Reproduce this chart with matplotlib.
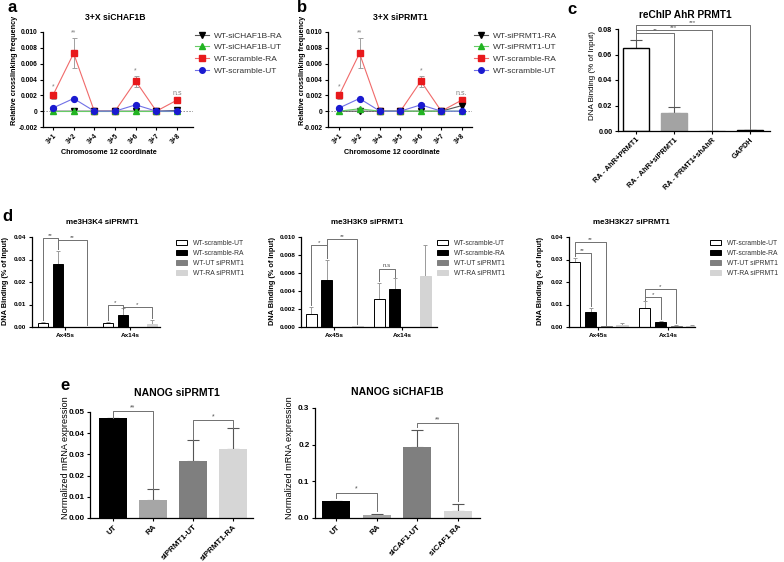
import numpy as np
import matplotlib
matplotlib.use("Agg")
import matplotlib.pyplot as plt
from matplotlib.lines import Line2D
from matplotlib.patches import Patch

plt.rcParams["font.family"] = ["Liberation Sans", "DejaVu Sans"]

W, H = 784, 562

# --- a / b : 3C crosslinking ---
coords = ["3+1", "3+2", "3+4", "3+5", "3+6", "3+7", "3+8"]
ab_yticks = [-0.002, 0, 0.002, 0.004, 0.006, 0.008, 0.010]
ab_ylabels = ["-0.002", "0", "0.002", "0.004", "0.006", "0.008", "0.010"]

a_kd_ra = [0, 0, 0, 0, 0, 0, 0.0001]
a_kd_ut = [0, 0, 0, 0, 0, 0, 0]
a_scr_ra = [0.0020, 0.0073, 0, 0, 0.0038, 0, 0.0014]
a_scr_ra_err = [0.0004, 0.0019, 0, 0, 0.0007, 0, 0.0002]
a_scr_ut = [0.0004, 0.0016, 0, 0, 0.0008, 0, 0]
a_scr_ut_err = [0.0001, 0.0001, 0, 0, 0.0002, 0, 0]
a_marks = ["*", "**", "", "", "*", "", "n.s"]
a_legend = ["WT-siCHAF1B-RA", "WT-siCHAF1B-UT", "WT-scramble-RA", "WT-scramble-UT"]

b_kd_ra = [0, 0, 0, 0, 0, 0, 0.0007]
b_kd_ut = [0, 0.0003, 0, 0, 0, 0, 0]
b_scr_ra = [0.0020, 0.0073, 0, 0, 0.0038, 0, 0.0014]
b_scr_ra_err = [0.0004, 0.0019, 0, 0, 0.0007, 0, 0.0002]
b_scr_ut = [0.0004, 0.0016, 0, 0, 0.0008, 0, 0]
b_scr_ut_err = [0.0001, 0.0001, 0, 0, 0.0002, 0, 0]
b_marks = ["*", "**", "", "", "*", "", "n.s."]
b_legend = ["WT-siPRMT1-RA", "WT-siPRMT1-UT", "WT-scramble-RA", "WT-scramble-UT"]

# --- c : reChIP ---
c_labels = ["RA - AhR+PRMT1", "RA - AhR+siPRMT1", "RA - PRMT1+shAhR", "GAPDH"]
c_vals = [0.065, 0.0145, 0.0, 0.0004]
c_errs = [0.006, 0.004, 0.0, 0.0001]
c_brackets = [(0, 1, 0.0765, "**"), (0, 2, 0.0795, "***"), (0, 3, 0.083, "***")]

# --- d : histone marks ---
d_groups = ["Ax45s", "Ax14s"]
d_series = ["WT-scramble-UT", "WT-scramble-RA", "WT-UT siPRMT1", "WT-RA siPRMT1"]
k4_mean = [[0.0018, 0.0018], [0.0278, 0.0053], [0.0, 0.0], [0.0, 0.0012]]
k4_err = [[0.0006, 0.0003], [0.0062, 0.0032], [0.0, 0.0], [0.0, 0.0018]]
k4_brackets = [(0, 0, 1, 0.0397, "**"), (0, 1, 3, 0.0385, "**"),
               (1, 0, 1, 0.0099, "*"), (1, 1, 3, 0.0089, "*")]
k9_mean = [[0.0014, 0.0031], [0.0052, 0.0042], [0.0, 0.0], [0.0001, 0.0057]]
k9_err = [[0.0008, 0.0018], [0.0023, 0.0012], [0.0, 0.0], [0.0, 0.0034]]
k9_brackets = [(0, 0, 1, 0.0091, "*"), (0, 1, 3, 0.0098, "**"),
               (1, 0, 1, 0.0065, "n.s")]
k27_mean = [[0.0289, 0.0086], [0.0068, 0.0023], [0.0003, 0.0004], [0.0010, 0.0003]]
k27_err = [[0.0019, 0.0028], [0.0016, 0.0003], [0.0, 0.0004], [0.0008, 0.0007]]
k27_brackets = [(0, 0, 1, 0.033, "**"), (0, 0, 2, 0.0378, "**"),
                (1, 0, 1, 0.0133, "*"), (1, 0, 2, 0.017, "*")]

# --- e : NANOG expression ---
e1_labels = ["UT", "RA", "siPRMT1-UT", "siPRMT1-RA"]
e1_vals = [0.0471, 0.0083, 0.0267, 0.0325]
e1_errs = [0.0002, 0.0056, 0.0099, 0.0101]
e1_brackets = [(0, 1, 0.0503, "**"), (2, 3, 0.046, "*")]
e2_labels = ["UT", "RA", "siCAF1-UT", "siCAF1 RA"]
e2_vals = [0.047, 0.007, 0.195, 0.020]
e2_errs = [0.0, 0.005, 0.046, 0.019]
e2_brackets = [(0, 1, 0.069, "*"), (2, 3, 0.258, "**")]

BAR_COLORS = ["white", "black", "#7f7f7f", "#d4d4d4"]
BAR_EDGES = ["black", "black", "#7f7f7f", "#d4d4d4"]


def px_axes(fig, left, top, right, bottom):
    return fig.add_axes([left / W, 1 - bottom / H, (right - left) / W, (bottom - top) / H])


def ftext(fig, x, y, s, **kw):
    return fig.text(x / W, 1 - y / H, s, **kw)


def style(ax, fs):
    for s in ("top", "right"):
        ax.spines[s].set_visible(False)
    for s in ("left", "bottom"):
        ax.spines[s].set_linewidth(0.9)
    ax.tick_params(direction="out", length=2.5, width=0.8, labelsize=fs, pad=1.5)
    for t in ax.get_xticklabels() + ax.get_yticklabels():
        t.set_fontweight("bold")


def bracket(ax, x1, x2, y, y1, y2, text, fs, color="#707070"):
    ax.plot([x1, x1, x2, x2], [y1, y, y, y2], color=color, lw=0.7, clip_on=False, zorder=4)
    ax.text((x1 + x2) / 2, y, text, ha="center", va="bottom", fontsize=fs,
            color="#505050", clip_on=False)


def draw_3c(fig, box, xlim, kd_ra, kd_ut, scr_ra, scr_ra_err, scr_ut, scr_ut_err, marks,
            labels, leg_xy):
    ax = px_axes(fig, *box)
    x = np.arange(len(coords))
    ax.axhline(0, color="#909090", ls=(0, (1.5, 1.5)), lw=0.7, zorder=1)
    series = [
        (scr_ra, scr_ra_err, "#e8191c", "#f06a6a", "s", 5.0),
        (kd_ra, None, "black", "#555555", "v", 4.0),
        (kd_ut, None, "#22b422", "#66cc66", "^", 4.0),
        (scr_ut, scr_ut_err, "#1a1ad0", "#7070e6", "o", 4.2),
    ]
    for y, err, c, lc, m, ms in series:
        if err is not None:
            ax.errorbar(x, y, yerr=err, fmt="none", ecolor="#a0a0a0", elinewidth=0.7,
                        capsize=1.8, capthick=0.7, zorder=2)
        ax.plot(x, y, color=lc, lw=0.8, zorder=3)
        ax.plot(x, y, ls="none", marker=m, color=c, ms=ms, zorder=3)
    tops = np.array(scr_ra) + np.array(scr_ra_err)
    for i, mk in enumerate(marks):
        if mk:
            ax.text(i, tops[i] + 0.0002, mk, ha="center", va="bottom", fontsize=5,
                    color="#808080")
    ax.set_xlim(*xlim)
    ax.set_ylim(-0.002, 0.010)
    ax.set_yticks(ab_yticks)
    ax.set_yticklabels(ab_ylabels)
    ax.set_xticks(x)
    ax.set_xticklabels(coords, rotation=45, ha="right", rotation_mode="anchor")
    style(ax, 4.8)
    handles = [
        Line2D([0], [0], color="#555555", lw=0.8, marker="v", mfc="black", mec="black", ms=4),
        Line2D([0], [0], color="#66cc66", lw=0.8, marker="^", mfc="#22b422", mec="#22b422", ms=4),
        Line2D([0], [0], color="#f06a6a", lw=0.8, marker="s", mfc="#e8191c", mec="#e8191c", ms=4.5),
        Line2D([0], [0], color="#7070e6", lw=0.8, marker="o", mfc="#1a1ad0", mec="#1a1ad0", ms=4),
    ]
    ax.legend(handles, labels, loc="upper left", bbox_to_anchor=(leg_xy[0] / W, 1 - leg_xy[1] / H),
              bbox_transform=fig.transFigure, frameon=False, fontsize=6, handlelength=1.7,
              handletextpad=0.6, labelspacing=0.45, borderpad=0, borderaxespad=0,
              labelcolor="#333333")
    return ax


def draw_grouped(fig, box, xlim, ylim, yticks, yticklabels, mean, err, brackets, leg_xy):
    ax = px_axes(fig, *box)
    step, width = 0.225, 0.16
    gx = np.arange(len(d_groups))
    top = ylim[1]
    for k in range(len(d_series)):
        xs = gx + (k - 1.5) * step
        ax.bar(xs, mean[k], width=width, color=BAR_COLORS[k], edgecolor=BAR_EDGES[k],
               linewidth=0.7, zorder=2)
        ax.errorbar(xs, mean[k], yerr=[np.zeros(len(gx)), err[k]], fmt="none",
                    ecolor="#9a9a9a", elinewidth=0.7, capsize=1.5, capthick=0.7, zorder=1)
    for g, k1, k2, y, t in brackets:
        x1 = g + (k1 - 1.5) * step
        x2 = g + (k2 - 1.5) * step
        b1 = min(mean[k1][g] + err[k1][g] + 0.02 * top, y - 0.02 * top)
        b2 = min(mean[k2][g] + err[k2][g] + 0.02 * top, y - 0.02 * top)
        bracket(ax, x1, x2, y, b1, b2, t, 4.5)
    ax.set_xlim(*xlim)
    ax.set_ylim(*ylim)
    ax.set_yticks(yticks)
    ax.set_yticklabels(yticklabels)
    ax.set_xticks(gx)
    ax.set_xticklabels(d_groups)
    style(ax, 4.6)
    handles = [Patch(facecolor=BAR_COLORS[k], edgecolor=BAR_EDGES[k], linewidth=0.7)
               for k in range(len(d_series))]
    ax.legend(handles, d_series, loc="upper left", bbox_to_anchor=(leg_xy[0] / W, 1 - leg_xy[1] / H),
              bbox_transform=fig.transFigure, frameon=False, fontsize=4.9, handlelength=1.6,
              handleheight=0.8, handletextpad=0.9, labelspacing=0.42, borderpad=0,
              borderaxespad=0, labelcolor="#333333")
    return ax


def draw_simple(fig, box, xlim, ylim, yticks, yticklabels, labels, vals, errs, colors,
                brackets, fs, edges=None, pad=0.0):
    ax = px_axes(fig, *box)
    x = np.arange(len(labels))
    ax.bar(x, vals, width=0.69, color=colors, edgecolor=edges if edges else colors,
           linewidth=1.0 if edges else 0, zorder=2)
    ax.errorbar(x, vals, yerr=[np.zeros(len(x)), errs], fmt="none", ecolor="#555555",
                elinewidth=0.8, capsize=4.5, capthick=0.8, zorder=1)
    tops = np.array(vals) + np.array(errs)
    for i, j, y, t in brackets:
        b1 = min(tops[i] + pad, y - 0.01 * ylim[1])
        b2 = min(tops[j] + pad, y - 0.01 * ylim[1])
        bracket(ax, i, j, y, b1, b2, t, fs)
    ax.set_xlim(*xlim)
    ax.set_ylim(*ylim)
    ax.set_yticks(yticks)
    ax.set_yticklabels(yticklabels)
    ax.set_xticks(x)
    ax.set_xticklabels(labels, rotation=45, ha="right", rotation_mode="anchor")
    return ax


fig = plt.figure(figsize=(W / 100, H / 100), dpi=100)

# a
draw_3c(fig, (43, 32, 193, 127), (-0.48, 6.77), a_kd_ra, a_kd_ut, a_scr_ra, a_scr_ra_err,
        a_scr_ut, a_scr_ut_err, a_marks, a_legend, (195, 32))
ftext(fig, 7, 8, "a", fontsize=12, fontweight="bold", va="center")
ftext(fig, 115, 17, "3+X siCHAF1B", fontsize=6.2, fontweight="bold", ha="center", va="center")
ftext(fig, 15, 70, "Relative crosslinking frequency", fontsize=5.2, fontweight="bold",
      rotation=90, ha="center", va="center")
ftext(fig, 109, 152, "Chromosome 12 coordinate", fontsize=5.2, fontweight="bold",
      ha="center", va="center")

# b
draw_3c(fig, (328, 32, 472, 127), (-0.54, 6.5), b_kd_ra, b_kd_ut, b_scr_ra, b_scr_ra_err,
        b_scr_ut, b_scr_ut_err, b_marks, b_legend, (474, 32))
ftext(fig, 297, 8, "b", fontsize=12, fontweight="bold", va="center")
ftext(fig, 400, 17, "3+X siPRMT1", fontsize=6.2, fontweight="bold", ha="center", va="center")
ftext(fig, 302, 70, "Relative crosslinking frequency", fontsize=5.2, fontweight="bold",
      rotation=90, ha="center", va="center")
ftext(fig, 392, 152, "Chromosome 12 coordinate", fontsize=5.2, fontweight="bold",
      ha="center", va="center")

# c
ax = draw_simple(fig, (618, 29, 770, 131), (-0.47, 3.53), (0, 0.08),
                 [0, 0.02, 0.04, 0.06, 0.08], ["0.00", "0.02", "0.04", "0.06", "0.08"],
                 c_labels, c_vals, c_errs, ["white", "#a3a3a3", "#a3a3a3", "black"],
                 c_brackets, 4.5, edges=["black", "#a3a3a3", "#a3a3a3", "black"], pad=0.001)
style(ax, 5.3)
ftext(fig, 567, 9, "c", fontsize=12, fontweight="bold", va="center")
ftext(fig, 685, 15, "reChIP AhR PRMT1", fontsize=7.3, fontweight="bold", ha="center", va="center")
ftext(fig, 592, 76, "DNA Binding (% of Input)", fontsize=5.8, rotation=90, ha="center", va="center")

# d
draw_grouped(fig, (32, 237, 160, 327), (-0.51, 1.46), (0, 0.04),
             [0, 0.01, 0.02, 0.03, 0.04], ["0.00", "0.01", "0.02", "0.03", "0.04"],
             k4_mean, k4_err, k4_brackets, (176, 240))
draw_grouped(fig, (301, 237, 437, 327), (-0.49, 1.51), (0, 0.010),
             [0, 0.002, 0.004, 0.006, 0.008, 0.010],
             ["0.000", "0.002", "0.004", "0.006", "0.008", "0.010"],
             k9_mean, k9_err, k9_brackets, (437, 240))
draw_grouped(fig, (569, 237, 695, 327), (-0.42, 1.38), (0, 0.04),
             [0, 0.01, 0.02, 0.03, 0.04], ["0.00", "0.01", "0.02", "0.03", "0.04"],
             k27_mean, k27_err, k27_brackets, (710, 240))
ftext(fig, 2, 217, "d", fontsize=12, fontweight="bold", va="center")
for cx, title in [(102, "me3H3K4 siPRMT1"), (367, "me3H3K9 siPRMT1"), (631, "me3H3K27 siPRMT1")]:
    ftext(fig, cx, 223, title, fontsize=5.8, fontweight="bold", ha="center", va="center")
for cx in (6, 272, 540):
    ftext(fig, cx, 281, "DNA Binding (% of Input)", fontsize=5.3, fontweight="bold",
          rotation=90, ha="center", va="center")

# e
e1_colors = ["black", "#a6a6a6", "#7f7f7f", "#d6d6d6"]
ax = draw_simple(fig, (90, 412, 253, 518), (-0.575, 3.5), (0, 0.05),
                 [0, 0.01, 0.02, 0.03, 0.04, 0.05],
                 ["0.00", "0.01", "0.02", "0.03", "0.04", "0.05"],
                 e1_labels, e1_vals, e1_errs, e1_colors, e1_brackets, 5)
style(ax, 5.8)
ax = draw_simple(fig, (315, 408, 480, 518), (-0.52, 3.54), (0, 0.3),
                 [0, 0.1, 0.2, 0.3], ["0.0", "0.1", "0.2", "0.3"],
                 e2_labels, e2_vals, e2_errs, e1_colors, e2_brackets, 5, pad=0.008)
style(ax, 5.8)
ftext(fig, 60, 385, "e", fontsize=12, fontweight="bold", va="center")
ftext(fig, 177, 393, "NANOG siPRMT1", fontsize=7.5, fontweight="bold", ha="center", va="center")
ftext(fig, 397, 392, "NANOG siCHAF1B", fontsize=7.5, fontweight="bold", ha="center", va="center")
for cx in (65, 290):
    ftext(fig, cx, 458, "Normalized mRNA expression", fontsize=6.6, rotation=90,
          ha="center", va="center")

fig.savefig("out.png", dpi=100)
